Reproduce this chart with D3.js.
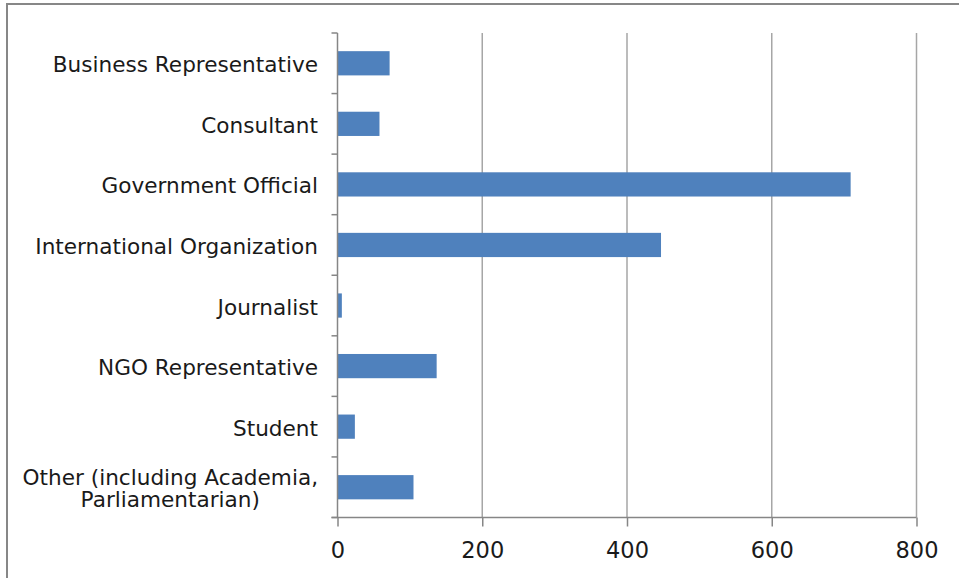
<!DOCTYPE html>
<html>
<head>
    <script src="https://d3js.org/d3.v7.min.js"></script>
    <style>
        body { margin:0; background:white; }
        text { font-family:"DejaVu Sans", Verdana, sans-serif; fill:#1a1a1a; }
        .grid line { stroke:#a6a6a6; stroke-width:1.5; }
        .bar { fill:#4f81bd; }
    </style>
</head>
<body>
    <script>
        var categories = ["Business Representative", "Consultant", "Government Official",
                          "International Organization", "Journalist", "NGO Representative",
                          "Student", "Other (including Academia,|Parliamentarian)"];
        var values = [72, 58, 709, 447, 6, 137, 24, 105];
        var ticks = [0, 200, 400, 600, 800];

        var svg = d3.select("body").append("svg")
                    .attr("width", 959).attr("height", 578);

        // outer frame of the chart
        svg.append("rect")
            .attr("x", 7).attr("y", 4).attr("width", 970).attr("height", 590)
            .attr("fill", "white").attr("stroke", "#878787").attr("stroke-width", 2);

        var plotLeft = 337.5, plotRight = 916.5, plotTop = 33, plotBottom = 517.5;

        var x = d3.scaleLinear().domain([0, 800]).range([plotLeft, plotRight]);
        var y = d3.scaleBand().domain(categories).range([plotTop, plotBottom])
                  .paddingInner(0.6).paddingOuter(0.3);
        var step = y.step();

        // gridlines
        svg.append("g").attr("class", "grid").selectAll("line")
            .data(ticks.slice(1)).enter().append("line")
            .attr("x1", function(d){ return x(d); })
            .attr("x2", function(d){ return x(d); })
            .attr("y1", plotTop).attr("y2", plotBottom);

        // bars
        svg.append("g").selectAll("rect")
            .data(values).enter().append("rect")
            .attr("class", "bar")
            .attr("x", x(0))
            .attr("y", function(d, i){ return y(categories[i]); })
            .attr("width", function(d){ return x(d) - x(0); })
            .attr("height", y.bandwidth());

        // y axis line + ticks at band boundaries
        var axisColor = "#868686";
        svg.append("line").attr("x1", plotLeft).attr("x2", plotLeft)
            .attr("y1", plotTop).attr("y2", plotBottom)
            .attr("stroke", axisColor).attr("stroke-width", 1.5);
        svg.append("g").selectAll("line")
            .data(d3.range(categories.length + 1)).enter().append("line")
            .attr("x1", plotLeft - 6).attr("x2", plotLeft)
            .attr("y1", function(i){ return plotTop + i * step; })
            .attr("y2", function(i){ return plotTop + i * step; })
            .attr("stroke", axisColor).attr("stroke-width", 1.5);

        // x axis
        var xAxis = svg.append("g")
            .attr("transform", "translate(0," + plotBottom + ")")
            .call(d3.axisBottom(x).tickValues(ticks).tickSize(9).tickPadding(16).tickSizeOuter(0));
        xAxis.select(".domain").attr("stroke", axisColor).attr("stroke-width", 1.5)
            .attr("d", "M" + (plotLeft - 6) + ",0H" + plotRight);
        xAxis.selectAll(".tick line").attr("stroke", axisColor).attr("stroke-width", 1.5);
        xAxis.selectAll(".tick text")
            .style("font-family", "'DejaVu Sans', Verdana, sans-serif")
            .style("font-size", "22.5px").attr("fill", "#1a1a1a");

        // category labels
        var labels = svg.append("g").selectAll("text")
            .data(categories).enter().append("text")
            .attr("font-size", "21.6px")
            .attr("text-anchor", "end")
            .attr("x", 318)
            .attr("y", function(d){ return y(d) + y.bandwidth() / 2; })
            .attr("dy", "0.42em");
        labels.each(function(d){
            var parts = d.split("|");
            var t = d3.select(this);
            if (parts.length == 1) {
                t.text(d);
            } else {
                // two centred lines, block right-aligned
                t.attr("text-anchor", "middle").attr("dy", null);
                var w = 0;
                parts.forEach(function(p){
                    var ts = t.append("tspan").text(p);
                    w = Math.max(w, ts.node().getComputedTextLength());
                });
                var cx = 318 - w / 2;
                t.selectAll("tspan")
                    .attr("x", cx)
                    .attr("dy", function(p, k){ return k == 0 ? "-0.12em" : "1.05em"; });
            }
        });
    </script>
</body>
</html>
